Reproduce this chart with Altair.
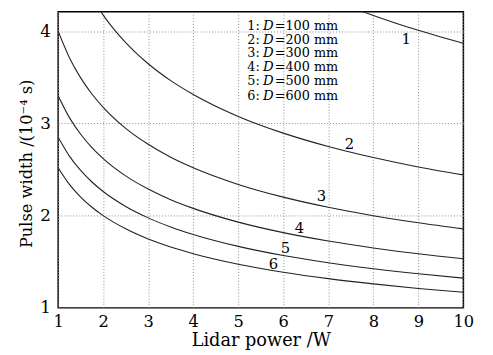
import altair as alt
import pandas as pd

# Curve data (lidar power in W, pulse width in 1e-4 s)
power_1 = [7.5, 8, 8.5, 9, 9.5, 10]
width_1 = [4.26, 4.17, 4.087, 4.01, 3.938, 3.87]

power_2 = [1.9, 2, 2.25, 2.5, 3, 3.5, 4, 5, 6, 7, 8, 9, 10]
width_2 = [4.247, 4.175, 4.014, 3.876, 3.647, 3.464, 3.314, 3.076, 2.895, 2.750, 2.63, 2.528, 2.442]

power_full = [1, 1.25, 1.5, 1.75, 2, 2.5, 3, 3.5, 4, 5, 6, 7, 8, 9, 10]
width_3 = [4.0, 3.713, 3.494, 3.319, 3.175, 2.947, 2.774, 2.634, 2.52, 2.339, 2.201, 2.091, 2.0, 1.923, 1.857]
width_4 = [3.30, 3.063, 2.883, 2.738, 2.619, 2.431, 2.288, 2.173, 2.079, 1.930, 1.816, 1.725, 1.65, 1.586, 1.532]
width_5 = [2.85, 2.646, 2.490, 2.365, 2.262, 2.100, 1.976, 1.877, 1.796, 1.667, 1.568, 1.490, 1.425, 1.370, 1.323]
width_6 = [2.52, 2.339, 2.201, 2.091, 2.0, 1.857, 1.747, 1.660, 1.588, 1.474, 1.387, 1.317, 1.26, 1.211, 1.170]

# Curve number labels
label_text = ["1", "2", "3", "4", "5", "6"]
label_x = [8.73, 7.47, 6.85, 6.36, 6.05, 5.78]
label_y = [3.92, 2.78, 2.21, 1.87, 1.65, 1.48]

# Legend text block
legend_num = ["1:", "2:", "3:", "4:", "5:", "6:"]
legend_rest = ["=100 mm", "=200 mm", "=300 mm", "=400 mm", "=500 mm", "=600 mm"]
legend_x = [5.2] * 6
legend_y = [4.06, 3.909, 3.758, 3.606, 3.454, 3.302]

x_ticks = [1, 2, 3, 4, 5, 6, 7, 8, 9, 10]
y_ticks = [1, 2, 3, 4]

rows = []
for cid, xs, ys in [("1", power_1, width_1), ("2", power_2, width_2),
                    ("3", power_full, width_3), ("4", power_full, width_4),
                    ("5", power_full, width_5), ("6", power_full, width_6)]:
    for x, y in zip(xs, ys):
        rows.append({"curve": cid, "power": x, "width": y})
df = pd.DataFrame(rows)

labels_df = pd.DataFrame({"t": label_text, "x": label_x, "y": label_y})
legend_df = pd.DataFrame({"num": legend_num, "d": ["D"] * 6, "rest": legend_rest,
                          "x": legend_x, "y": legend_y})

FONT = "DejaVu Serif"
xscale = alt.Scale(domain=[1, 10], nice=False, zero=False)
yscale = alt.Scale(domain=[1, 4.21], nice=False, zero=False)

lines = alt.Chart(df).mark_line(clip=True, color="#222222", strokeWidth=1.1,
                                interpolate="monotone").encode(
    x=alt.X("power:Q", scale=xscale,
            axis=alt.Axis(values=x_ticks, title="Lidar power /W", format="d",
                          labelPadding=6, titlePadding=2, labelFontSize=16.5,
                          titleFontSize=18, labelFlush=False)),
    y=alt.Y("width:Q", scale=yscale,
            axis=alt.Axis(values=y_ticks, title="Pulse width /(10⁻⁴ s)", format="d",
                          labelPadding=8, titlePadding=5, labelFontSize=17,
                          titleFontSize=16.5, titleY=154, labelFlush=False)),
    detail="curve:N",
)

nums = alt.Chart(labels_df).mark_text(font=FONT, fontSize=15, color="black").encode(
    x=alt.X("x:Q", scale=xscale), y=alt.Y("y:Q", scale=yscale), text="t:N")

leg1 = alt.Chart(legend_df).mark_text(font=FONT, fontSize=13, color="black",
                                      align="left", baseline="middle").encode(
    x=alt.X("x:Q", scale=xscale), y=alt.Y("y:Q", scale=yscale), text="num:N")
leg2 = alt.Chart(legend_df).mark_text(font=FONT, fontSize=13.5, color="black",
                                      fontStyle="italic", align="left",
                                      baseline="middle", dx=16).encode(
    x=alt.X("x:Q", scale=xscale), y=alt.Y("y:Q", scale=yscale), text="d:N")
leg3 = alt.Chart(legend_df).mark_text(font=FONT, fontSize=13, color="black",
                                      align="left", baseline="middle", dx=28).encode(
    x=alt.X("x:Q", scale=xscale), y=alt.Y("y:Q", scale=yscale), text="rest:N")

chart = alt.layer(lines, nums, leg1, leg2, leg3).properties(
    width=412, height=301,
    autosize=alt.AutoSizeParams(type="none"),
    padding={"left": 51, "top": 1, "right": 22, "bottom": 45},
).configure_view(
    stroke="black", strokeWidth=1.5
).configure_axis(
    grid=True, gridColor="#8a8a8a", gridDash=[1, 2], gridWidth=1,
    domain=False, ticks=False,
    labelFont=FONT, titleFont=FONT, labelColor="black", titleColor="black",
    titleFontWeight="normal",
)

chart.save("out.html", embed_options={"renderer": "svg", "actions": False})
